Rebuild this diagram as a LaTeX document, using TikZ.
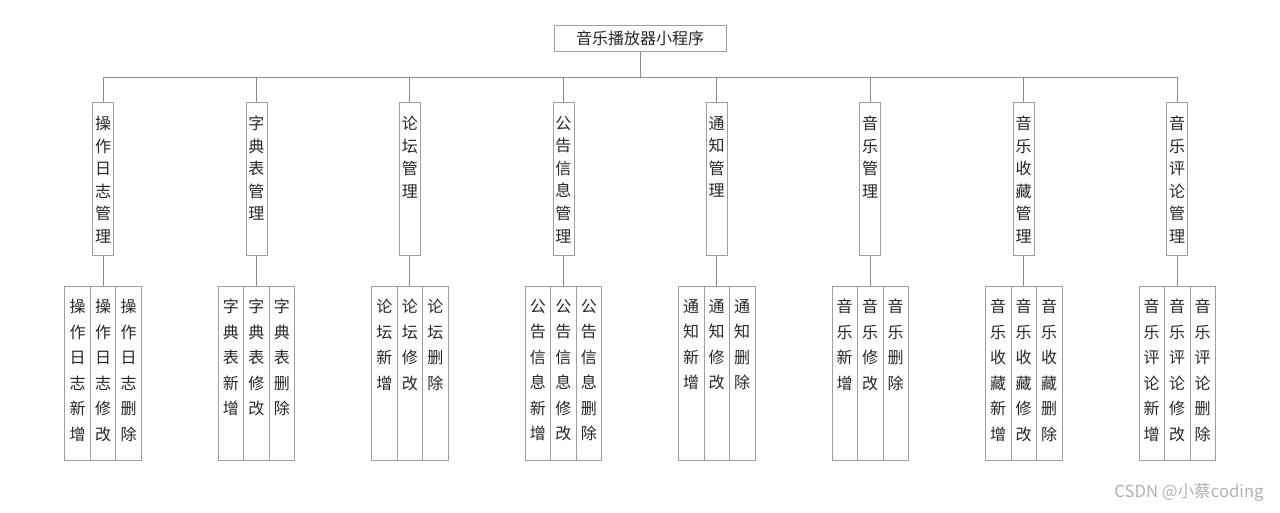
\documentclass[tikz,border=0pt]{standalone}
\usepackage{fontspec}
\setmainfont{Noto Sans CJK SC}
\usetikzlibrary{positioning}
% one column of characters, set from the top
\newcommand{\vcol}[2]{\parbox[t][#1][t]{14pt}{\centering #2}}

\begin{document}
\begin{tikzpicture}[
  x=0.75pt, y=-0.75pt,
  every node/.style={font=\fontsize{12}{16.9}\selectfont, text=black!85},
  root/.style={rectangle, draw=gray!75, minimum width=129pt,
               minimum height=19.5pt, inner sep=0pt},
  module/.style={rectangle, draw=gray!75, minimum width=15.75pt,
                 inner xsep=0pt, inner ysep=10.5pt, anchor=north},
  leaf/.style={rectangle, draw=gray!75, minimum width=19.125pt,
               inner xsep=0pt, inner ysep=9.75pt, anchor=north,
               font=\fontsize{12}{19.1}\selectfont},
  conn/.style={draw=gray!90, line width=0.75pt},
  wmark/.style={font=\fontsize{12.5}{14}\selectfont, text=gray!60},
]
\useasboundingbox (0,0) rectangle (1280,512);

\node[root] (root) at (640,38) {音乐播放器小程序};
\coordinate (bus) at (640,77);

% modules and their leaves
\foreach \i/\p in {1/{操\\作\\日\\志}, 2/{字\\典\\表}, 3/{论\\坛},
                   4/{公\\告\\信\\息}, 5/{通\\知}, 6/{音\\乐},
                   7/{音\\乐\\收\\藏}, 8/{音\\乐\\评\\论}}{
  \pgfmathsetmacro{\x}{103+153.43*(\i-1)}
  \node[module] (m\i) at (\x,102) {\vcol{93.75pt}{\p\\管\\理}};
  \node[leaf] (a\i) at (\x-25.5,286) {\vcol{111pt}{\p\\新\\增}};
  \node[leaf] (b\i) at (\x,286) {\vcol{111pt}{\p\\修\\改}};
  \node[leaf] (c\i) at (\x+25.5,286) {\vcol{111pt}{\p\\删\\除}};
}

\draw[conn] (root.south) -- (bus);
\draw[conn] (m1.north |- bus) -- (m8.north |- bus);
\foreach \i in {1,...,8}{
  \draw[conn] (m\i.north) -- (m\i.north |- bus);
  \draw[conn] (m\i.south) -- (b\i.north);
}

\node[wmark] (wm) at (1189,493) {CSDN @小蔡coding};
\end{tikzpicture}
\end{document}
